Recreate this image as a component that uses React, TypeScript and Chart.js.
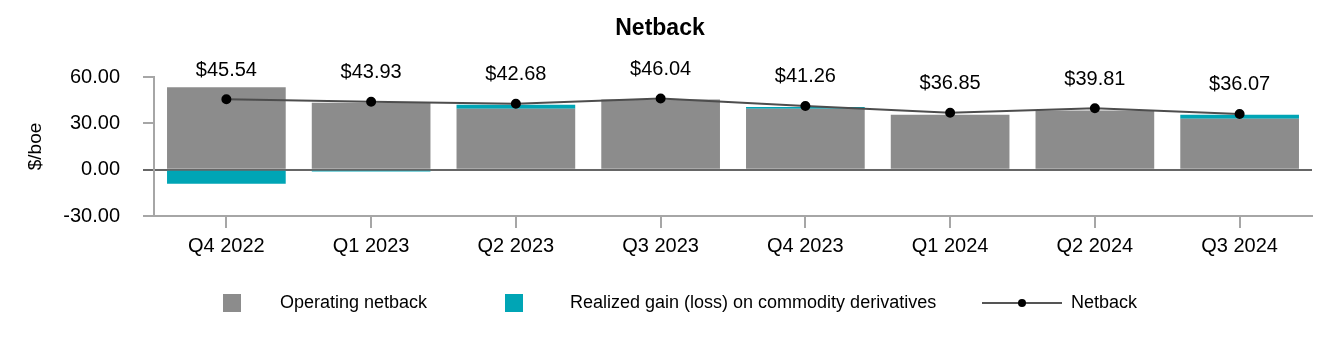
import React, { useEffect, useRef } from "react";
import { Chart, registerables } from "chart.js";

Chart.register(...registerables);

const categories = ["Q4 2022", "Q1 2023", "Q2 2023", "Q3 2023", "Q4 2023", "Q1 2024", "Q2 2024", "Q3 2024"];
const operatingNetback = [53.3, 43.3, 39.4, 45.4, 39.4, 35.6, 38.3, 33.0];
const realizedGain = [-9.1, -1.2, 2.6, 0, 1.1, 0, 0, 2.6];
const netback = [45.54, 43.93, 42.68, 46.04, 41.26, 36.85, 39.81, 36.07];
const yTicks = [-30, 0, 30, 60];

const FONT = "'Liberation Sans', Arial, sans-serif";
const GRAY = "#8c8c8c";
const TEAL = "#00a5b5";
const AXIS = "#a6a6a6";

const valueLabels = {
  id: "valueLabels",
  afterDatasetsDraw(chart: any) {
    const ctx = chart.ctx;
    const meta = chart.getDatasetMeta(2);
    ctx.save();
    ctx.font = `20px ${FONT}`;
    ctx.fillStyle = "#000";
    ctx.textAlign = "center";
    ctx.textBaseline = "middle";
    meta.data.forEach((pt: any, i: number) => {
      ctx.fillText("$" + netback[i].toFixed(2), pt.x, pt.y - 29);
    });
    ctx.restore();
  },
};

const customLegend = {
  id: "customLegend",
  afterDraw(chart: any) {
    const ctx = chart.ctx;
    const y = 295;
    ctx.save();
    ctx.font = `18px ${FONT}`;
    ctx.textAlign = "left";
    ctx.textBaseline = "middle";
    ctx.fillStyle = GRAY;
    ctx.fillRect(215, y - 9, 18, 18);
    ctx.fillStyle = "#000";
    ctx.fillText("Operating netback", 272, y);
    ctx.fillStyle = TEAL;
    ctx.fillRect(497, y - 9, 18, 18);
    ctx.fillStyle = "#000";
    ctx.fillText("Realized gain (loss) on commodity derivatives", 562, y);
    ctx.strokeStyle = "#555";
    ctx.lineWidth = 2;
    ctx.beginPath();
    ctx.moveTo(974, y);
    ctx.lineTo(1054, y);
    ctx.stroke();
    ctx.fillStyle = "#000";
    ctx.beginPath();
    ctx.arc(1014, y, 4, 0, Math.PI * 2);
    ctx.fill();
    ctx.fillText("Netback", 1063, y);
    ctx.restore();
  },
};

export default function App() {
  const ref = useRef<HTMLCanvasElement>(null);
  useEffect(() => {
    if (!ref.current) return;
    const chart = new Chart(ref.current, {
      type: "bar",
      data: {
        labels: categories,
        datasets: [
          {
            type: "bar",
            label: "Operating netback",
            data: operatingNetback,
            backgroundColor: GRAY,
            stack: "s",
            categoryPercentage: 1,
            barPercentage: 0.82,
            order: 2,
          },
          {
            type: "bar",
            label: "Realized gain (loss) on commodity derivatives",
            data: realizedGain,
            backgroundColor: TEAL,
            stack: "s",
            categoryPercentage: 1,
            barPercentage: 0.82,
            order: 2,
          },
          {
            type: "line",
            label: "Netback",
            data: netback,
            borderColor: "#4d4d4d",
            borderWidth: 2,
            pointBackgroundColor: "#000",
            pointBorderColor: "#000",
            pointRadius: 4,
            stack: "line",
            order: 1,
          } as any,
        ],
      },
      options: {
        animation: false,
        responsive: false,
        maintainAspectRatio: false,
        layout: { padding: { left: 0, right: 12, top: 0, bottom: 78 } },
        plugins: {
          legend: { display: false },
          tooltip: { enabled: false },
          title: {
            display: true,
            text: "Netback",
            color: "#000",
            font: { family: FONT, size: 23, weight: "bold" },
            padding: { top: 7, bottom: 34.4 },
          },
        },
        scales: {
          x: {
            stacked: true,
            offset: true,
            grid: {
              display: true,
              offset: false,
              drawOnChartArea: false,
              drawTicks: true,
              tickLength: 12,
              tickColor: AXIS,
              lineWidth: 2,
            },
            border: { display: true, color: AXIS, width: 2 },
            ticks: { color: "#000", font: { family: FONT, size: 20 }, padding: 6, maxRotation: 0 },
            afterFit: (s: any) => {
              s.height = 50;
            },
          },
          y: {
            stacked: true,
            min: -30,
            max: 60,
            afterBuildTicks: (s: any) => {
              s.ticks = yTicks.map((v) => ({ value: v }));
            },
            grid: {
              display: true,
              drawOnChartArea: true,
              drawTicks: true,
              tickLength: 11,
              color: (c: any) => (c.tick && c.tick.value === 0 ? "#666" : "rgba(0,0,0,0)"),
              tickColor: (c: any) => (c.tick && c.tick.value === 0 ? "#666" : AXIS),
              lineWidth: 2,
            },
            border: { display: true, color: AXIS, width: 2 },
            ticks: {
              color: "#000",
              font: { family: FONT, size: 20 },
              padding: 23,
              callback: (v: any) => Number(v).toFixed(2),
            },
            title: {
              display: true,
              text: "$/boe",
              color: "#000",
              font: { family: FONT, size: 19 },
              padding: { top: 16, bottom: 0 },
            },
            afterFit: (s: any) => {
              s.width = 146;
            },
          },
        },
      },
      plugins: [valueLabels, customLegend],
    });
    return () => chart.destroy();
  }, []);
  return <canvas ref={ref} width={1316} height={336} style={{ display: "block" }} />;
}
